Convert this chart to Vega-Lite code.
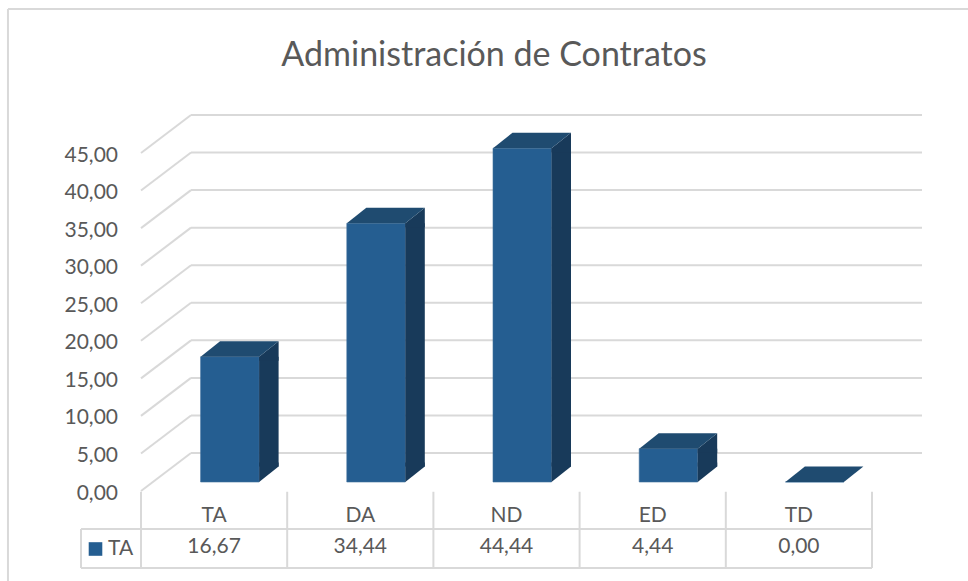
{
  "$schema": "https://vega.github.io/schema/vega-lite/v6.json",
  "width": 731,
  "height": 338,
  "autosize": "none",
  "padding": {"left": 141, "top": 153, "right": 96, "bottom": 90},
  "background": "white",
  "datasets": {
    "bars": [
      {"cat": "TA", "value": 16.67, "series": "TA"},
      {"cat": "DA", "value": 34.44, "series": "TA"},
      {"cat": "ND", "value": 44.44, "series": "TA"},
      {"cat": "ED", "value": 4.44, "series": "TA"},
      {"cat": "TD", "value": 0.0, "series": "TA"}
    ],
    "grid": [
      {"v": 0}, {"v": 5}, {"v": 10}, {"v": 15}, {"v": 20},
      {"v": 25}, {"v": 30}, {"v": 35}, {"v": 40}, {"v": 45}
    ]
  },
  "title": {
    "text": "Administración de Contratos",
    "font": "Lato",
    "fontSize": 34,
    "fontWeight": "normal",
    "color": "#595959",
    "frame": "group",
    "anchor": "middle",
    "dx": -12.5,
    "offset": -65
  },
  "layer": [
    {
      "data": {"values": [{}]},
      "mark": {"type": "rule", "color": "#d9d9d9", "strokeWidth": 2},
      "encoding": {
        "x": {"datum": -0.41, "type": "quantitative", "scale": {"domain": [0.5, 5.5], "nice": false, "zero": false, "padding": 0}, "axis": null},
        "x2": {"datum": 6.5},
        "y": {"datum": 64.17, "type": "quantitative", "scale": {"domain": [0, 45], "nice": false, "zero": false, "padding": 0}, "axis": null}
      }
    },
    {
      "data": {"values": [{}]},
      "mark": {"type": "rule", "color": "#d9d9d9", "strokeWidth": 2},
      "encoding": {
        "x": {"datum": -0.41, "type": "quantitative", "axis": null},
        "y": {"datum": 64.17, "type": "quantitative", "axis": null},
        "y2": {"datum": -13}
      }
    },
    {
      "data": {"name": "grid"},
      "mark": {"type": "rule", "color": "#d9d9d9", "strokeWidth": 2, "x2Offset": 50, "y2Offset": -38},
      "encoding": {
        "x": {"datum": 0.5, "type": "quantitative", "axis": null},
        "x2": {"datum": 0.5},
        "y": {"field": "v", "type": "quantitative", "axis": null},
        "y2": {"field": "v"}
      }
    },
    {
      "data": {"name": "grid"},
      "mark": {"type": "rule", "color": "#d9d9d9", "strokeWidth": 2, "xOffset": 50, "x2Offset": 50, "yOffset": -38},
      "encoding": {
        "x": {"datum": 0.5, "type": "quantitative", "axis": null},
        "x2": {"datum": 5.5},
        "y": {"field": "v", "type": "quantitative", "axis": null}
      }
    },
    {
      "data": {"name": "grid"},
      "mark": {"type": "text", "font": "Lato", "fontSize": 21, "color": "#595959", "align": "right", "baseline": "middle", "xOffset": -23, "yOffset": 2.5},
      "encoding": {
        "x": {"datum": 0.5, "type": "quantitative", "axis": null},
        "y": {"field": "v", "type": "quantitative", "axis": null},
        "text": {"field": "v", "type": "quantitative", "format": ".2f"}
      }
    },
    {
      "data": {"values": [{}]},
      "mark": {"type": "rule", "color": "#d9d9d9", "strokeWidth": 2, "xOffset": -60},
      "encoding": {
        "x": {"datum": 0.5, "type": "quantitative", "axis": null},
        "x2": {"datum": 5.5},
        "y": {"datum": -5.06, "type": "quantitative", "axis": null}
      }
    },
    {
      "data": {"values": [{}]},
      "mark": {"type": "rule", "color": "#d9d9d9", "strokeWidth": 2, "xOffset": -60},
      "encoding": {
        "x": {"datum": 0.5, "type": "quantitative", "axis": null},
        "x2": {"datum": 5.5},
        "y": {"datum": -10.25, "type": "quantitative", "axis": null}
      }
    },
    {
      "data": {"values": [{}]},
      "mark": {"type": "rule", "color": "#d9d9d9", "strokeWidth": 2, "xOffset": -60},
      "encoding": {
        "x": {"datum": 0.5, "type": "quantitative", "axis": null},
        "y": {"datum": -5.06, "type": "quantitative", "axis": null},
        "y2": {"datum": -10.25}
      }
    },
    {
      "data": {"values": [{}]},
      "mark": {"type": "rule", "color": "#d9d9d9", "strokeWidth": 2},
      "encoding": {
        "x": {"datum": 5.5, "type": "quantitative", "axis": null},
        "y": {"datum": -0.1, "type": "quantitative", "axis": null},
        "y2": {"datum": -10.25}
      }
    },
    {
      "data": {"name": "bars"},
      "transform": [{"window": [{"op": "row_number", "as": "idx"}]}],
      "layer": [
        {
          "mark": {"type": "rule", "color": "#d9d9d9", "strokeWidth": 2, "xOffset": -73.1},
          "encoding": {
            "x": {"field": "idx", "type": "quantitative", "axis": null},
            "y": {"datum": -0.1, "type": "quantitative", "axis": null},
            "y2": {"datum": -10.25}
          }
        },
        {
          "mark": {"type": "bar", "width": 58.5, "xOffset": 15.75, "yOffset": -9, "y2Offset": -9, "stroke": "#3E6F9C", "strokeWidth": 0.6},
          "encoding": {
            "x": {"field": "idx", "type": "quantitative", "axis": null},
            "y": {"field": "value", "type": "quantitative", "axis": null},
            "y2": {"datum": 0},
            "color": {
              "field": "series",
              "type": "nominal",
              "scale": {"domain": ["TA"], "range": ["#255E91"]},
              "legend": {
                "orient": "none",
                "legendX": -56,
                "legendY": 385.5,
                "title": null,
                "padding": 0,
                "symbolType": "square",
                "symbolSize": 185,
                "symbolStrokeWidth": 0,
                "labelFont": "Lato",
                "labelFontSize": 21,
                "labelColor": "#595959",
                "labelOffset": 2
              }
            }
          }
        },
        {
          "transform": [{"filter": "datum.value > 0"}],
          "mark": {"type": "bar", "width": 19.5, "xOffset": 54.75, "yOffset": -9, "y2Offset": -24.5, "color": "#183A5A"},
          "encoding": {
            "x": {"field": "idx", "type": "quantitative", "axis": null},
            "y": {"field": "value", "type": "quantitative", "axis": null},
            "y2": {"datum": 0}
          }
        },
        {
          "transform": [{"filter": "datum.value > 0"}],
          "mark": {"type": "point", "shape": "M45,-9L64.5,-24.5L64.5,-5L45,-5Z", "size": 4, "filled": true, "opacity": 1, "color": "#183A5A", "strokeWidth": 0},
          "encoding": {
            "x": {"field": "idx", "type": "quantitative", "axis": null},
            "y": {"field": "value", "type": "quantitative", "axis": null}
          }
        },
        {
          "transform": [{"filter": "datum.value > 0"}],
          "mark": {"type": "point", "shape": "M45,-28.5L64.5,-28.5L64.5,-24.5L45,-9Z", "size": 4, "filled": true, "opacity": 1, "color": "#183A5A", "strokeWidth": 0},
          "encoding": {
            "x": {"field": "idx", "type": "quantitative", "axis": null},
            "y": {"datum": 0, "type": "quantitative", "axis": null}
          }
        },
        {
          "mark": {"type": "point", "shape": "M-13.5,-9L45,-9L64.5,-24.5L6,-24.5Z", "size": 4, "filled": true, "opacity": 1, "color": "#1F4B70", "strokeWidth": 0},
          "encoding": {
            "x": {"field": "idx", "type": "quantitative", "axis": null},
            "y": {"field": "value", "type": "quantitative", "axis": null}
          }
        },
        {
          "mark": {"type": "text", "font": "Lato", "fontSize": 21, "color": "#595959", "align": "center", "baseline": "middle"},
          "encoding": {
            "x": {"field": "idx", "type": "quantitative", "axis": null},
            "y": {"datum": -3.33, "type": "quantitative", "axis": null},
            "text": {"field": "cat", "type": "nominal"}
          }
        },
        {
          "mark": {"type": "text", "font": "Lato", "fontSize": 21, "color": "#595959", "align": "center", "baseline": "middle"},
          "encoding": {
            "x": {"field": "idx", "type": "quantitative", "axis": null},
            "y": {"datum": -7.46, "type": "quantitative", "axis": null},
            "text": {"field": "value", "type": "quantitative", "format": ".2f"}
          }
        }
      ]
    }
  ],
  "config": {
    "font": "Lato",
    "view": {"stroke": null},
    "locale": {
      "number": {"decimal": ",", "thousands": ".", "grouping": [3], "currency": ["", " €"]}
    }
  }
}
